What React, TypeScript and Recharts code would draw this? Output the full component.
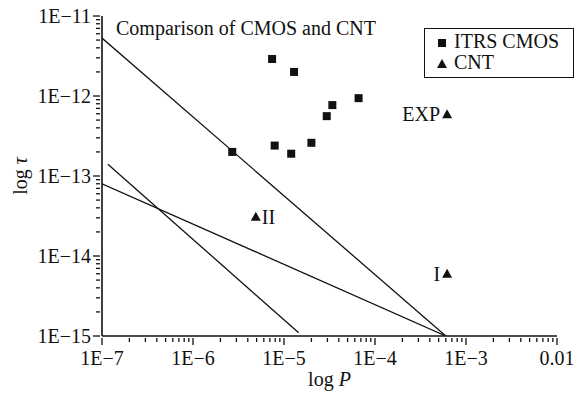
import React from 'react';
import { ScatterChart, Scatter, XAxis, YAxis, Label } from 'recharts';

const cmosP = [2.7e-6, 7.4e-6, 1.29e-5, 7.9e-6, 1.2e-5, 2.0e-5, 2.95e-5, 3.4e-5, 6.6e-5];
const cmosTau = [2e-13, 2.9e-12, 2e-12, 2.4e-13, 1.9e-13, 2.6e-13, 5.6e-13, 7.7e-13, 9.4e-13];

const cntP = [6.2e-4, 6.2e-4, 4.9e-6];
const cntTau = [5.9e-13, 6e-15, 3.1e-14];
const cntNames = ['EXP', 'I', 'II'];

// limit lines, two end points each
const lineA = [{ p: 1e-7, t: 5.3e-12 }, { p: 6.0e-4, t: 1e-15 }];
const lineB = [{ p: 1e-7, t: 8e-14 }, { p: 6.0e-4, t: 1e-15 }];
const lineC = [{ p: 1.16e-7, t: 1.4e-13 }, { p: 1.45e-5, t: 1.1e-15 }];

const xMajor = [1e-7, 1e-6, 1e-5, 1e-4, 1e-3, 1e-2];
const yMajor = [1e-15, 1e-14, 1e-13, 1e-12, 1e-11];
const minorSteps = [2, 3, 4, 5, 6, 7, 8, 9];

const xLabels = ['1E\u22127', '1E\u22126', '1E\u22125', '1E\u22124', '1E\u22123', '0.01'];
const yLabels = ['1E\u221215', '1E\u221214', '1E\u221213', '1E\u221212', '1E\u221211'];

const withMinor = (major: number[]) => {
  const out: number[] = [];
  major.forEach((m, i) => {
    out.push(m);
    if (i < major.length - 1) minorSteps.forEach((s) => out.push(m * s));
  });
  return out;
};

const xTicks = withMinor(xMajor);
const yTicks = withMinor(yMajor);

const cmosData = cmosP.map((p, i) => ({ p, t: cmosTau[i] }));
const cntData = cntP.map((p, i) => ({ p, t: cntTau[i], name: cntNames[i] }));

const FONT = '"Liberation Serif", "Times New Roman", serif';
const INK = '#111';
const FS = 20;

const isMajor = (v: number, list: number[]) => list.findIndex((m) => Math.abs(m - v) / m < 1e-6);

const XTick = (props: any) => {
  const { x, y, payload } = props;
  const idx = isMajor(payload.value, xMajor);
  const len = idx >= 0 ? 7 : 4;
  return (
    <g>
      <line x1={x} x2={x} y1={y} y2={y + len} stroke={INK} strokeWidth={1.3} />
      {idx >= 0 && (
        <text x={x} y={y + 27} textAnchor="middle" fontFamily={FONT} fontSize={FS} fill={INK}>
          {xLabels[idx]}
        </text>
      )}
    </g>
  );
};

const YTick = (props: any) => {
  const { x, y, payload } = props;
  const idx = isMajor(payload.value, yMajor);
  const len = idx >= 0 ? 7 : 4;
  return (
    <g>
      <line x1={x - len} x2={x} y1={y} y2={y} stroke={INK} strokeWidth={1.3} />
      {idx >= 0 && (
        <text x={x - 9} y={y + 7} textAnchor="end" fontFamily={FONT} fontSize={FS} fill={INK}>
          {yLabels[idx]}
        </text>
      )}
    </g>
  );
};

const Square = (props: any) => {
  const { cx, cy } = props;
  return <rect x={cx - 4} y={cy - 4} width={8} height={8} fill={INK} />;
};

const Triangle = (props: any) => {
  const { cx, cy, payload } = props;
  const name = payload?.name;
  const right = name === 'II';
  return (
    <g>
      <path d={`M${cx},${cy - 5} L${cx + 5},${cy + 4} L${cx - 5},${cy + 4} Z`} fill={INK} />
      {name && (
        <text
          x={right ? cx + 6 : cx - 7}
          y={cy + 7}
          textAnchor={right ? 'start' : 'end'}
          fontFamily={FONT}
          fontSize={FS}
          fill={INK}
        >
          {name}
        </text>
      )}
    </g>
  );
};

const NoDot = () => <g />;

const LegendBox = () => (
  <div
    style={{
      position: 'absolute',
      left: 424,
      top: 28,
      border: '1.5px solid #111',
      width: 150,
      height: 50,
      boxSizing: 'border-box',
      fontFamily: FONT,
      fontSize: FS,
      color: INK,
      padding: '2px 0 0 12px',
      lineHeight: '21px',
      background: '#fff',
      whiteSpace: 'nowrap',
    }}
  >
    <div>
      <svg width={10} height={10} style={{ marginRight: 7 }}>
        <rect x={1} y={1} width={8} height={8} fill={INK} />
      </svg>
      ITRS CMOS
    </div>
    <div>
      <svg width={10} height={10} style={{ marginRight: 7 }}>
        <path d="M5,0 L10,9 L0,9 Z" fill={INK} />
      </svg>
      CNT
    </div>
  </div>
);

export default function App() {
  return (
    <div style={{ position: 'absolute', left: 0, top: 0, width: 575, height: 393, background: '#fff' }}>
      <ScatterChart width={575} height={393} margin={{ top: 16, right: 18, bottom: 17, left: 22 }}>
        <XAxis
          type="number"
          dataKey="p"
          scale="log"
          domain={[1e-7, 1e-2]}
          ticks={xTicks}
          interval={0}
          allowDataOverflow
          tick={<XTick />}
          tickLine={false}
          tickSize={0}
          axisLine={{ stroke: INK, strokeWidth: 1.6 }}
          height={40}
        >
          <Label
            content={(p: any) => (
              <text
                x={p.viewBox.x + p.viewBox.width / 2}
                y={p.viewBox.y + 50}
                textAnchor="middle"
                fontFamily={FONT}
                fontSize={FS}
                fill={INK}
              >
                log <tspan fontStyle="italic">P</tspan>
              </text>
            )}
          />
        </XAxis>
        <YAxis
          type="number"
          dataKey="t"
          scale="log"
          domain={[1e-15, 1e-11]}
          ticks={yTicks}
          interval={0}
          allowDataOverflow
          tick={<YTick />}
          tickLine={false}
          tickSize={0}
          axisLine={{ stroke: INK, strokeWidth: 1.6 }}
          width={80}
        >
          <Label
            content={(p: any) => (
              <text
                x={0}
                y={0}
                transform={`translate(27, ${p.viewBox.y + p.viewBox.height / 2}) rotate(-90)`}
                textAnchor="middle"
                fontFamily={FONT}
                fontSize={FS}
                fill={INK}
              >
                log <tspan fontStyle="italic">τ</tspan>
              </text>
            )}
          />
        </YAxis>
        <Scatter data={lineA} line={{ stroke: INK, strokeWidth: 1.3 }} shape={<NoDot />} legendType="none" isAnimationActive={false} />
        <Scatter data={lineB} line={{ stroke: INK, strokeWidth: 1.3 }} shape={<NoDot />} legendType="none" isAnimationActive={false} />
        <Scatter data={lineC} line={{ stroke: INK, strokeWidth: 1.3 }} shape={<NoDot />} legendType="none" isAnimationActive={false} />
        <Scatter name="ITRS CMOS" data={cmosData} shape={<Square />} isAnimationActive={false} />
        <Scatter name="CNT" data={cntData} shape={<Triangle />} isAnimationActive={false} />
      </ScatterChart>
      <LegendBox />
      <div
        style={{
          position: 'absolute',
          left: 116,
          top: 17,
          fontFamily: FONT,
          fontSize: FS,
          color: INK,
          whiteSpace: 'nowrap',
        }}
      >
        Comparison of CMOS and CNT
      </div>
    </div>
  );
}
